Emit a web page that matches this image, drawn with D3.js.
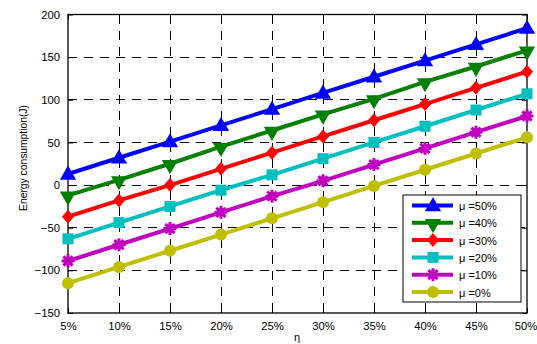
<!DOCTYPE html>
<html>
<head>
<meta charset="utf-8">
<script src="https://cdn.jsdelivr.net/npm/d3@7"></script>
<style>
  html, body { margin: 0; padding: 0; background: #fff; }
  svg { display: block; font-family: "Liberation Sans", Arial, sans-serif; }
</style>
</head>
<body>
<svg id="chart" width="537" height="344"></svg>
<script>
// Load ratio η on the x axis
const etaLabels = ["5%", "10%", "15%", "20%", "25%", "30%", "35%", "40%", "45%", "50%"];
const yTicks = [-150, -100, -50, 0, 50, 100, 150, 200];

// Energy consumption (J) per μ level
const mu50 = [13, 32, 51, 70, 89, 108, 127, 146, 165, 184];
const mu40 = [-12, 6, 25, 45, 64, 83, 101, 121, 139, 158];
const mu30 = [-37, -18, 0, 19, 38, 57, 76, 95, 114, 133];
const mu20 = [-63, -44, -25, -6, 12, 31, 50, 69, 88, 107];
const mu10 = [-89, -70, -51, -32, -13, 5, 24, 43, 62, 81];
const mu0  = [-115, -96, -77, -58, -39, -20, -1, 18, 37, 56];

const seriesNames = ["μ =50%", "μ =40%", "μ =30%", "μ =20%", "μ =10%", "μ =0%"];
const seriesValues = [mu50, mu40, mu30, mu20, mu10, mu0];
const seriesColors = ["#0000ff", "#008000", "#ff0000", "#00bfbf", "#bf00bf", "#bfbf00"];
const seriesMarkers = ["triUp", "triDown", "diamond", "square", "asterisk", "circle"];

const svg = d3.select("#chart");
const plot = { left: 68, right: 527, top: 14.5, bottom: 313 };

const x = d3.scalePoint().domain(etaLabels).range([plot.left, plot.right]);
const y = d3.scaleLinear().domain([-150, 200]).range([plot.bottom, plot.top]);

// Dashed grid
const grid = svg.append("g").attr("stroke", "#000").attr("stroke-width", 1)
  .attr("stroke-dasharray", "9,7").attr("shape-rendering", "crispEdges");
etaLabels.slice(1, -1).forEach(d => {
  grid.append("line").attr("x1", x(d)).attr("x2", x(d))
    .attr("y1", plot.top).attr("y2", plot.bottom);
});
yTicks.slice(1, -1).forEach(v => {
  grid.append("line").attr("x1", plot.left).attr("x2", plot.right)
    .attr("y1", y(v)).attr("y2", y(v));
});

// Axes with inward ticks on all four sides
const tickLen = 5;
const axB = d3.axisBottom(x).tickSizeInner(-tickLen).tickSizeOuter(0).tickPadding(9);
const axL = d3.axisLeft(y).tickValues(yTicks).tickSizeInner(-tickLen).tickSizeOuter(0).tickPadding(8);
const axT = d3.axisTop(x).tickSizeInner(-tickLen).tickSizeOuter(0).tickFormat("");
const axR = d3.axisRight(y).tickValues(yTicks).tickSizeInner(-tickLen).tickSizeOuter(0).tickFormat("");

function styleAxis(g) {
  g.select(".domain").remove();
  g.selectAll("line").attr("stroke", "#000");
  g.selectAll("text").attr("fill", "#000").attr("font-size", 11.3);
}
const bottomAxis = svg.append("g").attr("transform", `translate(0,${plot.bottom})`).call(axB).call(styleAxis);
// keep the last label inside the canvas
bottomAxis.selectAll(".tick text").filter(d => d === "50%").attr("dx", -1.5);
svg.append("g").attr("transform", `translate(${plot.left},0)`).call(axL).call(styleAxis);
svg.append("g").attr("transform", `translate(0,${plot.top})`).call(axT).call(styleAxis);
svg.append("g").attr("transform", `translate(${plot.right},0)`).call(axR).call(styleAxis);

svg.append("rect").attr("x", plot.left).attr("y", plot.top)
  .attr("width", plot.right - plot.left).attr("height", plot.bottom - plot.top)
  .attr("fill", "none").attr("stroke", "#000").attr("stroke-width", 1.3);

// Axis titles
svg.append("text").attr("x", 297).attr("y", 341).attr("text-anchor", "middle")
  .attr("font-size", 11).text("η");
svg.append("text").attr("transform", "translate(27,158) rotate(-90)")
  .attr("text-anchor", "middle").attr("font-size", 10.3).text("Energy consumption(J)");

// Marker drawing
function drawMarker(g, kind, color, cx, cy) {
  const m = g.append("g").attr("transform", `translate(${cx},${cy})`);
  if (kind === "triUp" || kind === "triDown") {
    const p = d3.symbol().type(d3.symbolTriangle).size(115)();
    m.append("path").attr("d", p).attr("fill", color)
      .attr("transform", kind === "triDown" ? "rotate(180) translate(0,-1)" : "translate(0,1)");
  } else if (kind === "diamond") {
    m.append("path").attr("d", "M0,-7L6,0L0,7L-6,0Z").attr("fill", color);
  } else if (kind === "square") {
    m.append("rect").attr("x", -5.5).attr("y", -5.5).attr("width", 11).attr("height", 11).attr("fill", color);
  } else if (kind === "circle") {
    m.append("circle").attr("r", 6).attr("fill", color);
  } else if (kind === "asterisk") {
    const r = 6.5;
    for (let i = 0; i < 4; i++) {
      const a = i * Math.PI / 4;
      m.append("line").attr("x1", -r * Math.cos(a)).attr("y1", -r * Math.sin(a))
        .attr("x2", r * Math.cos(a)).attr("y2", r * Math.sin(a))
        .attr("stroke", color).attr("stroke-width", 3);
    }
    m.append("circle").attr("r", 4.5).attr("fill", color);
  }
}

// Series lines and markers
const line = d3.line().x((d, i) => x(etaLabels[i])).y(d => y(d));
seriesValues.forEach((vals, s) => {
  const g = svg.append("g");
  g.append("path").attr("d", line(vals)).attr("fill", "none")
    .attr("stroke", seriesColors[s]).attr("stroke-width", 4).attr("stroke-linejoin", "round");
  vals.forEach((v, i) => drawMarker(g, seriesMarkers[s], seriesColors[s], x(etaLabels[i]), y(v)));
});

// Legend
const lg = svg.append("g");
lg.append("rect").attr("x", 403).attr("y", 195).attr("width", 118).attr("height", 107)
  .attr("fill", "#fff").attr("stroke", "#000").attr("stroke-width", 1);
seriesNames.forEach((name, s) => {
  const ly = 205.5 + s * 17.3;
  lg.append("line").attr("x1", 412).attr("x2", 453).attr("y1", ly).attr("y2", ly)
    .attr("stroke", seriesColors[s]).attr("stroke-width", 4);
  drawMarker(lg, seriesMarkers[s], seriesColors[s], 433, ly);
  lg.append("text").attr("x", 459).attr("y", ly + 4.5).attr("font-size", 11)
    .attr("fill", "#000").text(name);
});
</script>
</body>
</html>
